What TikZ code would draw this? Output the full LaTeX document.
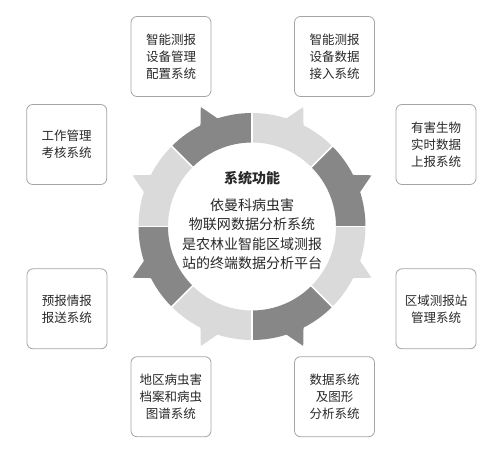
\documentclass[tikz,border=0pt]{standalone}
\usepackage{fontspec}
\newfontfamily\cjk{Noto Sans CJK SC}
\definecolor{segdark}{RGB}{135,135,135}
\definecolor{seglight}{RGB}{218,218,218}
\definecolor{boxgray}{RGB}{165,165,165}
\definecolor{txt}{RGB}{40,40,40}
\begin{document}
\begin{tikzpicture}[x=1pt,y=1pt,
  box/.style={draw=boxgray, line width=0.8pt, rounded corners=6pt,
    minimum width=80pt, minimum height=80pt, align=center, inner sep=0pt,
    text=txt, font=\cjk\fontsize{12.5pt}{17pt}\selectfont},
  centertext/.style={align=center, inner sep=0pt, text=txt,
    font=\cjk\fontsize{14pt}{19.5pt}\selectfont},
  titletext/.style={inner sep=0pt, text=txt,
    font=\cjk\bfseries\fontsize{14pt}{19.5pt}\selectfont}
]
\useasboundingbox (-252,226.5) rectangle (248,-233.5);
% ring segments
\def\Ro{113.5}
\def\Ri{84}
\def\Rt{130}
\foreach \m/\s/\c in {22.5/1/segdark, 112.5/1/segdark, 202.5/1/segdark, 292.5/1/segdark,
                      67.5/-1/seglight, 157.5/-1/seglight, 247.5/-1/seglight, 337.5/-1/seglight}{
  \pgfmathsetmacro\aA{\m-22.5}
  \pgfmathsetmacro\aB{\m+22.5}
  \pgfmathsetmacro\pa{\m-4.65-0.15*\s}
  \pgfmathsetmacro\tp{\m+0.7*\s}
  \pgfmathsetmacro\pb{\m+4.65-0.15*\s}
  \fill[\c] (\aA:\Ro pt) arc[start angle=\aA, end angle=\pa, radius=\Ro pt]
    -- (\tp:\Rt pt) -- (\pb:\Ro pt)
    arc[start angle=\pb, end angle=\aB, radius=\Ro pt]
    -- (\aB:\Ri pt) arc[start angle=\aB, end angle=\aA, radius=\Ri pt] -- cycle;
}
\foreach \a in {0,45,...,315}{
  \draw[white, line width=1.6pt] (\a:\Ri pt-2pt) -- (\a:\Ro pt+2pt);
}
% center text
\node[titletext] (title) at (0,48) {系统功能};
\node[centertext] (desc) at (0,-7.5) {依曼科病虫害\\物联网数据分析系统\\是农林业智能区域测报\\站的终端数据分析平台};
% boxes
\node[box] (b1) at (-81,170) {智能测报\\设备管理\\配置系统};
\node[box] (b2) at (82.5,170) {智能测报\\设备数据\\接入系统};
\node[box] (b3) at (184,82) {有害生物\\实时数据\\上报系统};
\node[box] (b4) at (-185.3,82) {工作管理\\考核系统};
\node[box] (b5) at (-185,-82.3) {预报情报\\报送系统};
\node[box] (b6) at (184,-82.3) {区域测报站\\管理系统};
\node[box] (b7) at (-81,-170.2) {地区病虫害\\档案和病虫\\图谱系统};
\node[box] (b8) at (82.5,-170.2) {数据系统\\及图形\\分析系统};
\end{tikzpicture}
\end{document}
